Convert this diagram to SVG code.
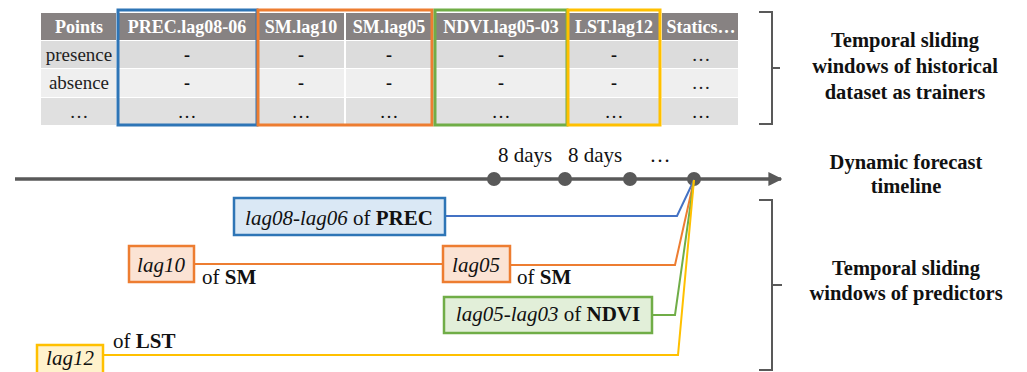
<svg xmlns="http://www.w3.org/2000/svg" width="1027" height="372" viewBox="0 0 1027 372">
<style>
text{fill:#111}
.hd{font-size:18px;font-weight:bold;fill:#fff;text-anchor:middle}
.td{font-size:19px;text-anchor:middle;fill:#222}
.dash{font-size:18px;font-weight:bold;text-anchor:middle;fill:#222}
.lbl{font-size:20.5px;font-weight:bold;text-anchor:middle}
.box{font-size:21px;text-anchor:middle}
.of{font-size:21px}
.it{font-style:italic}
.b{font-weight:bold}
.win{fill:none;stroke-width:3}
.tl{stroke:#595959;stroke-width:3.5;fill:none}
.dot{fill:#595959}
.brk{fill:none;stroke:#595959;stroke-width:2}
.con{fill:none;stroke-width:2}
</style>
<defs>
<marker id="arr" viewBox="0 0 10 10" refX="9" refY="5" markerWidth="4" markerHeight="4" orient="auto" markerUnits="strokeWidth">
<path d="M0,0 L10,5 L0,10 z" fill="#595959"/>
</marker>
</defs>

<g id="table">
<rect x="41" y="13" width="697" height="27" fill="#878282"/>
<rect x="41" y="41" width="697" height="27" fill="#dcdcdc"/>
<rect x="41" y="69" width="697" height="28" fill="#efefef"/>
<rect x="41" y="98" width="697" height="27" fill="#e0e0e0"/>
<g stroke="#fff" stroke-width="2">
<line x1="117" y1="13" x2="117" y2="125"/>
<line x1="257" y1="13" x2="257" y2="125"/>
<line x1="345" y1="13" x2="345" y2="125"/>
<line x1="433" y1="13" x2="433" y2="125"/>
<line x1="567" y1="13" x2="567" y2="125"/>
<line x1="661" y1="13" x2="661" y2="125"/>
</g>
<text font-family="Liberation Serif" class="hd" x="79" y="33">Points</text>
<text font-family="Liberation Serif" class="hd" x="187" y="33">PREC.lag08-06</text>
<text font-family="Liberation Serif" class="hd" x="301" y="33">SM.lag10</text>
<text font-family="Liberation Serif" class="hd" x="389" y="33">SM.lag05</text>
<text font-family="Liberation Serif" class="hd" x="501" y="33">NDVI.lag05-03</text>
<text font-family="Liberation Serif" class="hd" x="614" y="33">LST.lag12</text>
<text font-family="Liberation Serif" class="hd" x="701" y="33">Statics…</text>
<text font-family="Liberation Serif" class="td" x="79" y="61">presence</text>
<text font-family="Liberation Serif" class="td" x="79" y="89">absence</text>
<text font-family="Liberation Serif" class="td" x="79" y="118">…</text>
<g class="dash">
<text font-family="Liberation Serif" x="187" y="61">-</text><text font-family="Liberation Serif" x="301" y="61">-</text><text font-family="Liberation Serif" x="389" y="61">-</text><text font-family="Liberation Serif" x="501" y="61">-</text><text font-family="Liberation Serif" x="614" y="61">-</text>
<text font-family="Liberation Serif" x="187" y="89">-</text><text font-family="Liberation Serif" x="301" y="89">-</text><text font-family="Liberation Serif" x="389" y="89">-</text><text font-family="Liberation Serif" x="501" y="89">-</text><text font-family="Liberation Serif" x="614" y="89">-</text>
</g>
<text font-family="Liberation Serif" class="td" x="701" y="61">…</text>
<text font-family="Liberation Serif" class="td" x="701" y="89">…</text>
<g class="td">
<text font-family="Liberation Serif" x="187" y="118">…</text><text font-family="Liberation Serif" x="301" y="118">…</text><text font-family="Liberation Serif" x="389" y="118">…</text><text font-family="Liberation Serif" x="501" y="118">…</text><text font-family="Liberation Serif" x="614" y="118">…</text><text font-family="Liberation Serif" x="701" y="118">…</text>
</g>
<rect class="win" x="118" y="10" width="139" height="115" stroke="#2e75b6"/>
<rect class="win" x="258" y="10" width="174" height="115" stroke="#ed7d31"/>
<rect class="win" x="435" y="10" width="132" height="115" stroke="#70ad47"/>
<rect class="win" x="568" y="10" width="92" height="115" stroke="#ffc000"/>
</g>

<g id="bracket-top">
<path class="brk" d="M759,12 H772 V124 H759 M772,68 H780"/>
</g>
<g id="label-trainers">
<text font-family="Liberation Serif" class="lbl" x="905" y="47">Temporal sliding</text>
<text font-family="Liberation Serif" class="lbl" x="905" y="73">windows of historical</text>
<text font-family="Liberation Serif" class="lbl" x="905" y="99">dataset as trainers</text>
</g>

<g id="timeline">
<line class="tl" x1="15" y1="179" x2="781" y2="179" marker-end="url(#arr)"/>
<circle class="dot" cx="494" cy="179" r="7"/>
<circle class="dot" cx="565" cy="179" r="7"/>
<circle class="dot" cx="630" cy="179" r="7"/>
<circle class="dot" cx="694" cy="179" r="7"/>
<text font-family="Liberation Serif" class="of" x="525" y="162" text-anchor="middle">8 days</text>
<text font-family="Liberation Serif" class="of" x="595" y="162" text-anchor="middle">8 days</text>
<text font-family="Liberation Serif" class="of" x="660" y="162" text-anchor="middle">…</text>
</g>
<g id="label-timeline">
<text font-family="Liberation Serif" class="lbl" x="906" y="169">Dynamic forecast</text>
<text font-family="Liberation Serif" class="lbl" x="906" y="193">timeline</text>
</g>

<g id="connectors">
<polyline class="con" stroke="#4472c4" points="445,216 677,216 694,180"/>
<polyline class="con" stroke="#ed7d31" points="194,264 443,264"/>
<polyline class="con" stroke="#ed7d31" points="510,265 675,265 694,180"/>
<polyline class="con" stroke="#70ad47" points="652,315 675,315 694,180"/>
<polyline class="con" stroke="#ffc000" points="103,355 678,355 694,180"/>
</g>

<g id="node-prec">
<rect x="234" y="198" width="211" height="37" fill="#dae8f5" stroke="#2e75b6" stroke-width="2.5"/>
<text font-family="Liberation Serif" class="box" x="339" y="225"><tspan class="it">lag08-lag06</tspan> of <tspan class="b">PREC</tspan></text>
</g>
<g id="node-sm10">
<rect x="129" y="246" width="65" height="36" fill="#fbe3d4" stroke="#ed7d31" stroke-width="2.5"/>
<text font-family="Liberation Serif" class="box it" x="161" y="272">lag10</text>
<text font-family="Liberation Serif" class="of" x="202" y="284">of <tspan class="b">SM</tspan></text>
</g>
<g id="node-sm05">
<rect x="443" y="246" width="67" height="36" fill="#fbe3d4" stroke="#ed7d31" stroke-width="2.5"/>
<text font-family="Liberation Serif" class="box it" x="476" y="272">lag05</text>
<text font-family="Liberation Serif" class="of" x="517" y="284">of <tspan class="b">SM</tspan></text>
</g>
<g id="node-ndvi">
<rect x="444" y="297" width="208" height="36" fill="#e2efd9" stroke="#70ad47" stroke-width="2.5"/>
<text font-family="Liberation Serif" class="box" x="548" y="321"><tspan class="it">lag05-lag03</tspan> of <tspan class="b">NDVI</tspan></text>
</g>
<g id="node-lst">
<rect x="37" y="345" width="66" height="36" fill="#fff2cc" stroke="#ffc000" stroke-width="2.5"/>
<text font-family="Liberation Serif" class="box it" x="70" y="365">lag12</text>
<text font-family="Liberation Serif" class="of" x="113" y="348">of <tspan class="b">LST</tspan></text>
</g>

<g id="bracket-bottom">
<path class="brk" d="M759,200 H772 V370 H759 M772,285 H782"/>
</g>
<g id="label-predictors">
<text font-family="Liberation Serif" class="lbl" x="906" y="275">Temporal sliding</text>
<text font-family="Liberation Serif" class="lbl" x="906" y="300">windows of predictors</text>
</g>
</svg>
